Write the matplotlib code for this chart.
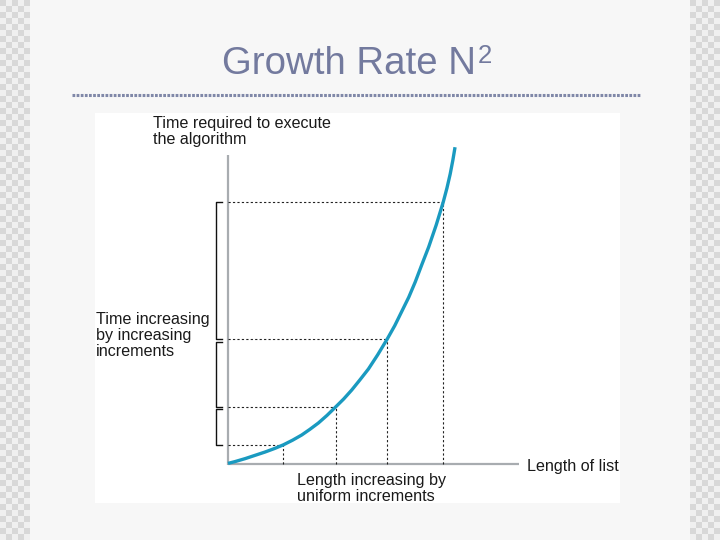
import numpy as np
import matplotlib.pyplot as plt
from matplotlib.lines import Line2D

# curve (length of list, time)
length = [0.0, 0.13, 0.32, 0.69, 0.87, 1.03, 1.2, 1.37, 1.52, 1.68, 1.84,
          2.0, 2.15, 2.30, 2.45, 2.61, 2.78, 2.96, 3.1, 3.23, 3.36, 3.48,
          3.6, 3.73, 3.87, 4.0, 4.07, 4.13, 4.18, 4.22]
time = [0.03, 0.12, 0.27, 0.6, 0.78, 0.96, 1.19, 1.45, 1.73, 2.05, 2.43,
        2.85, 3.25, 3.7, 4.2, 4.75, 5.45, 6.25, 6.92, 7.63, 8.34, 9.1,
        9.95, 10.85, 11.95, 13.09, 13.8, 14.5, 15.2, 15.84]

# uniform steps marked on the x axis and where they meet the curve
mark_x = [1.03, 2.0, 2.96, 4.0]
mark_y = [0.96, 2.85, 6.25, 13.09]

# brackets on the time axis (top, bottom)
brackets = [(13.09, 6.25), (6.1, 2.85), (2.75, 0.96)]

title_main = "Growth Rate N"
title_sup = "2"
y_label = "Time required to execute\nthe algorithm"
x_label = "Length of list"
left_note = "Time increasing\nby increasing\nincrements"
bottom_note = "Length increasing by\nuniform increments"

plt.rcParams['font.family'] = ['Liberation Sans', 'DejaVu Sans']

W, H = 720, 540
fig = plt.figure(figsize=(7.2, 5.4), dpi=100)
fig.patch.set_facecolor('#f7f7f7')

# checkered side borders
bg = fig.add_axes([0, 0, 1, 1])
bg.set_xlim(0, W)
bg.set_ylim(H, 0)
bg.axis('off')
sq = 6
for x0 in (0, 690):
    for i in range(5):
        for j in range(H // sq):
            col = '#d8d8d8' if (i + j) % 2 == 0 else '#f0f0f0'
            bg.add_patch(plt.Rectangle((x0 + i * sq, j * sq), sq, sq,
                                       facecolor=col, edgecolor='none'))

# title and dotted rule
title_col = '#737a9e'
fig.text(222 / W, 1 - 73.5 / H, title_main, ha='left', va='baseline',
         fontsize=27.6, color=title_col)
fig.text(477.5 / W, 1 - 63 / H, title_sup, ha='left', va='baseline',
         fontsize=18.5, color=title_col)
fig.add_artist(Line2D([72 / W, 640 / W], [1 - 95 / H, 1 - 95 / H],
                      color='#8088a8', lw=2.2, linestyle=(0, (0.9, 0.45)),
                      dash_capstyle='butt'))

# white chart panel
ax = fig.add_axes([95 / W, 1 - 503 / H, 525 / W, 390 / H])
ax.set_facecolor('white')
for s in ax.spines.values():
    s.set_visible(False)
ax.set_xticks([])
ax.set_yticks([])
ux, uy = 53.8, 20.0
ax.set_xlim((95 - 228) / ux, (620 - 228) / ux)
ax.set_ylim((464 - 503) / uy, (464 - 113) / uy)

# axes lines
axis_col = '#a8acb0'
ax.plot([0, 0], [-0.05, 15.45], color=axis_col, lw=1.6, solid_capstyle='butt')
ax.plot([0, 5.4], [0, 0], color=axis_col, lw=1.6, solid_capstyle='butt')

# dotted guides
dot = (0, (2, 2))
for mx, my in zip(mark_x, mark_y):
    ax.plot([0, mx], [my, my], color='#222222', lw=0.8, linestyle=dot)
    ax.plot([mx, mx], [0, my], color='#222222', lw=0.8, linestyle=dot)

# the curve
ax.plot(length, time, color='#1a9ac0', lw=2.4, solid_capstyle='butt',
        solid_joinstyle='round', zorder=5)

# brackets
bx, tx = -0.223, -0.11
for top, bot in brackets:
    ax.plot([tx, bx, bx, tx], [top, top, bot, bot], color='#111111', lw=1.0)

# texts
kw = dict(fontsize=11.6, color='#1a1a1a', linespacing=1.1)
ax.text((153 - 228) / ux, (464 - 116) / uy, y_label, ha='left', va='top', **kw)
ax.text((96 - 228) / ux, (464 - 312) / uy, left_note, ha='left', va='top', **kw)
ax.text((297 - 228) / ux, (464 - 473) / uy, bottom_note, ha='left', va='top', **kw)
ax.text((527 - 228) / ux, (464 - 466) / uy, x_label, ha='left', va='center', **kw)

plt.savefig("out.png", dpi=100)
